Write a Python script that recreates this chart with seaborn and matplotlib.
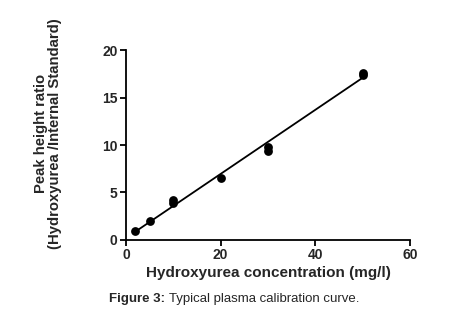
import seaborn as sns
import pandas as pd
import numpy as np
import matplotlib.pyplot as plt

conc=[2,5,10,10,20,30,30,50,50]
ratio=[0.9,2.0,3.9,4.2,6.5,9.4,9.8,17.4,17.6]

x_ticks=[0,20,40,60]
y_ticks=[0,5,10,15,20]

def main():
    df=pd.DataFrame({'conc':conc,'ratio':ratio})
    sns.set_theme(style='ticks')
    plt.rcParams['font.family']=['Liberation Sans','DejaVu Sans']
    fig=plt.figure(figsize=(4.59,3.12),dpi=100)
    ax=fig.add_axes([0.2745,0.2308,0.6185,0.6089])
    sns.regplot(data=df,x='conc',y='ratio',ci=None,ax=ax,
                scatter_kws={'s':40,'color':'black','alpha':1,'linewidths':0,'zorder':3},
                line_kws={'color':'black','linewidth':1.3})
    ax.set_xlim(0,60)
    ax.set_ylim(0,20)
    ax.set_xticks(x_ticks)
    ax.set_yticks(y_ticks)
    for lab in ax.get_xticklabels()+ax.get_yticklabels():
        lab.set_fontweight('bold')
        lab.set_fontsize(10)
    ax.tick_params(direction='out',length=4,width=1.3,color='black',pad=2)
    sns.despine(ax=ax)
    for s in ['left','bottom']:
        ax.spines[s].set_linewidth(1.3)
        ax.spines[s].set_color('black')
    ax.set_xlabel('Hydroxyurea concentration (mg/l)',fontsize=11,fontweight='bold',labelpad=3)
    ax.set_ylabel('Peak height ratio\n(Hydroxyurea /Internal Standard)',fontsize=10.7,
                  fontweight='bold',linespacing=1.05)
    ax.yaxis.set_label_coords(-0.225,0.56)
    t=fig.text(0.237,0.032,'Figure 3:',fontsize=9.5,fontweight='bold')
    ax.annotate('Typical plasma calibration curve.',xy=(1,0),xycoords=t,
                xytext=(3,0),textcoords='offset points',fontsize=9.5,va='bottom')
    fig.savefig('out.png',dpi=100)

if __name__=='__main__':
    main()
